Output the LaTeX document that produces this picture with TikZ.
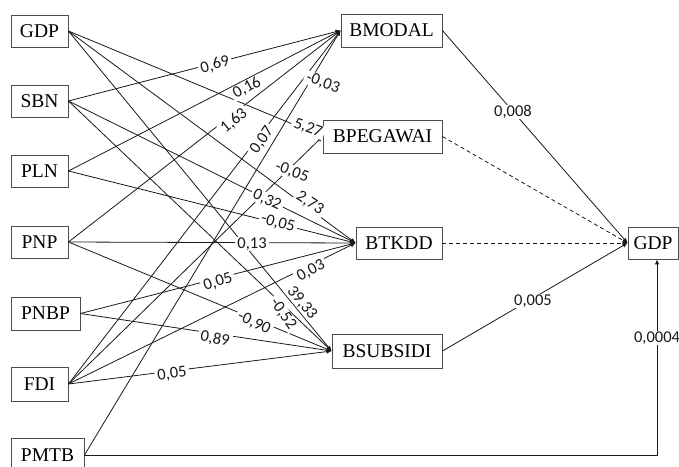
\documentclass[tikz,border=0pt]{standalone}
\usepackage{fontspec}
\setmainfont{Liberation Serif}
\newfontfamily\lblfam{Carlito}
\usetikzlibrary{arrows.meta}
\begin{document}
\begin{tikzpicture}[x=1pt,y=-1pt,
  varbox/.style={draw=black!70,line width=0.9pt,minimum height=32pt,inner sep=0pt,
    font=\fontsize{19.5}{19.5}\selectfont},
  edge/.style={draw=black!90,line width=0.8pt,-{Latex[length=5pt,width=4.5pt]}},
  dedge/.style={edge,dash pattern=on 4pt off 3pt},
  lbl/.style={font=\lblfam\fontsize{16.5}{16.5}\selectfont,fill=white,inner xsep=2.5pt,inner ysep=0.5pt,text=black!90}]
\useasboundingbox (0,0) rectangle (679,466);
% left column
\node[varbox,minimum width=57pt] (gdpa) at (39.5,31) {GDP};
\node[varbox,minimum width=57pt] (sbn) at (39.5,101) {SBN};
\node[varbox,minimum width=57pt] (pln) at (39.5,171) {PLN};
\node[varbox,minimum width=57pt] (pnp) at (39.5,242) {PNP};
\node[varbox,minimum width=69pt,minimum height=33pt] (pnbp) at (45.5,313.5) {PNBP};
\node[varbox,minimum width=57pt,minimum height=34pt] (fdi) at (39.5,384) {FDI};
\node[varbox,minimum width=73pt,minimum height=33pt] (pmtb) at (47.5,455) {PMTB};
% middle column
\node[varbox,minimum width=101pt,minimum height=33pt] (bmodal) at (391.5,30.5) {BMODAL};
\node[varbox,minimum width=119pt,minimum height=33pt] (bpeg) at (382.5,136.5) {BPEGAWAI};
\node[varbox,minimum width=86pt] (btkdd) at (399,243) {BTKDD};
\node[varbox,minimum width=110pt,minimum height=34pt] (bsub) at (387,351) {BSUBSIDI};
% right
\node[varbox,minimum width=50pt] (gdpb) at (653,243) {GDP};
% edges to BMODAL
\draw[edge] (sbn.east) -- (bmodal.west);
\draw[edge] (pln.east) -- (bmodal.west);
\draw[edge] (pnp.east) -- (bmodal.west);
\draw[edge] (fdi.east) -- (bmodal.west);
\draw[edge] (pmtb.east) -- (bmodal.west);
% edges to BPEGAWAI
\draw[edge] (gdpa.east) -- (bpeg.west);
\draw[edge] (fdi.east) -- (bpeg.west);
% edges to BTKDD
\draw[edge] (gdpa.east) -- (btkdd.west);
\draw[edge] (sbn.east) -- (btkdd.west);
\draw[edge] (pln.east) -- (btkdd.west);
\draw[edge] (pnp.east) -- (btkdd.west);
\draw[edge] (pnbp.east) -- (btkdd.west);
\draw[edge] (fdi.east) -- (btkdd.west);
% edges to BSUBSIDI
\draw[edge] (gdpa.east) -- (bsub.west);
\draw[edge] (sbn.east) -- (bsub.west);
\draw[edge] (pnp.east) -- (bsub.west);
\draw[edge] (pnbp.east) -- (bsub.west);
\draw[edge] (fdi.east) -- (bsub.west);
% edges to GDP
\draw[edge] (bmodal.east) -- (gdpb.west);
\draw[dedge] (bpeg.east) -- (gdpb.west);
\draw[dedge] (btkdd.east) -- (gdpb.west);
\draw[edge] (bsub.east) -- (gdpb.west);
\draw[edge] (pmtb.east) -| ([xshift=4pt]gdpb.south);
% labels
\node[lbl,rotate=16] (l1) at (215,65) {0,69};
\node[lbl,rotate=28] (l2) at (247,88) {0,16};
\node[lbl,rotate=40] (l3) at (234,121) {1,63};
\node[lbl,rotate=55] (l4) at (262,140) {0,07};
\node[lbl,rotate=-20] (l5) at (323,83) {-0,03};
\node[lbl,rotate=-20] (l6) at (308,128) {5,27};
\node[lbl,rotate=-20] (l7) at (292,172) {-0,05};
\node[lbl,rotate=-33] (l8) at (310,203) {2,73};
\node[lbl,rotate=-25] (l9) at (267,200) {0,32};
\node[lbl,rotate=-15] (l10) at (278,223) {-0,05};
\node[lbl] (l11) at (252,244) {0,13};
\node[lbl,rotate=18] (l12) at (218,282) {0,05};
\node[lbl,rotate=28] (l13) at (311,271) {0,03};
\node[lbl,rotate=-50] (l14) at (302,303) {39,33};
\node[lbl,rotate=-55] (l15) at (283,314) {-0,52};
\node[lbl,rotate=-25] (l16) at (254,323) {-0,90};
\node[lbl,rotate=-10] (l17) at (215,339) {0,89};
\node[lbl,rotate=8] (l18) at (172,374) {0,05};
\node[lbl] (r1) at (513,112) {0,008};
\node[lbl] (r2) at (533,301) {0,005};
\node[lbl] (r3) at (657,338) {0,0004};
\end{tikzpicture}
\end{document}
